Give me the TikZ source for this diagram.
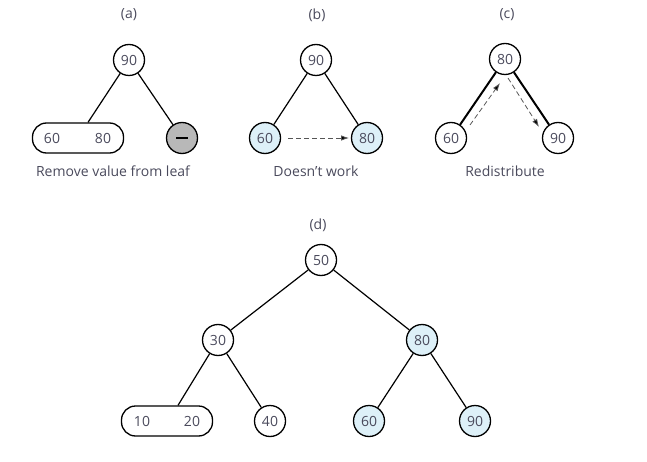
\documentclass[tikz,border=0pt]{standalone}
\usepackage{fontspec}
\setmainfont{Open Sans}
\usetikzlibrary{arrows.meta,calc}
\definecolor{txt}{HTML}{4A4A5C}
\definecolor{lblue}{HTML}{DDF0F8}
\definecolor{mgray}{HTML}{B8B8B8}
\definecolor{dgray}{HTML}{555555}
\tikzset{
  nd/.style={circle,draw=black,line width=1.3pt,minimum size=31pt,inner sep=0pt,text=txt,font=\fontsize{14}{16}\selectfont},
  bl/.style={nd,fill=lblue},
  pair/.style={draw=black,line width=1.3pt,rounded corners=14pt,minimum width=91pt,minimum height=30pt,inner sep=0pt},
  lbl/.style={text=txt,font=\fontsize{14}{16}\selectfont},
  edge/.style={line width=1.2pt},
  thick edge/.style={line width=2pt},
  dash arrow/.style={draw=dgray,dash pattern=on 5pt off 3pt,line width=0.8pt,-{Latex[length=8pt,width=5.5pt,fill=black]}}
}
\begin{document}
\begin{tikzpicture}[x=1pt,y=-1pt]
\useasboundingbox (0,0) rectangle (647,462);
% (a)
\node[lbl] (la) at (129,15) {(a)};
\node[nd] (a90) at (129,60) {90};
\node[pair] (abox) at (78,138) {};
\node[lbl] (a60) at (52,138) {60};
\node[lbl] (a80) at (103,138) {80};
\node[nd,fill=mgray] (amin) at (182,138) {};
\draw[line width=1.8pt] ($(amin.center)+(-6,0)$) coordinate (m1) -- ($(amin.center)+(6,0)$) coordinate (m2);
\coordinate (aboxtop) at ($(abox.north)+(10,0)$);
\draw[edge] (a90) -- (aboxtop);
\draw[edge] (a90) -- (amin);
\node[lbl] (ta) at (113,171) {Remove value from leaf};
% (b)
\node[lbl] (lb) at (317,15) {(b)};
\node[nd] (b90) at (316,60) {90};
\node[bl] (b60) at (265,138) {60};
\node[bl] (b80) at (367,138) {80};
\draw[edge] (b90) -- (b60);
\draw[edge] (b90) -- (b80);
\coordinate (bs) at (288,138);
\coordinate (be) at (349,138);
\draw[dash arrow] (bs) -- (be);
\node[lbl] (tb) at (316,171) {Doesn’t work};
% (c)
\node[lbl] (lc) at (507,15) {(c)};
\node[nd] (c80) at (505,59) {80};
\node[nd] (c60) at (451,138) {60};
\node[nd] (c90) at (558,138) {90};
\draw[thick edge] (c80) -- (c60);
\draw[thick edge] (c80) -- (c90);
\coordinate (cs1) at (470,125);
\coordinate (ce1) at (500,83);
\coordinate (cs2) at (508,78);
\coordinate (ce2) at (539,127);
\draw[dash arrow] (cs1) -- (ce1);
\draw[dash arrow] (cs2) -- (ce2);
\node[lbl] (tc) at (505,171) {Redistribute};
% (d)
\node[lbl] (ld) at (318,225) {(d)};
\node[nd] (d50) at (321,260) {50};
\node[nd] (d30) at (218,340) {30};
\node[bl] (d80) at (422,340) {80};
\node[pair] (dbox) at (167,421) {};
\node[lbl] (d10) at (142,421) {10};
\node[lbl] (d20) at (192,421) {20};
\node[nd] (d40) at (270,421) {40};
\node[bl] (d60) at (369,421) {60};
\node[bl] (d90) at (475,421) {90};
\coordinate (dboxtop) at ($(dbox.north)+(11,0)$);
\draw[edge] (d50) -- (d30);
\draw[edge] (d50) -- (d80);
\draw[edge] (d30) -- (dboxtop);
\draw[edge] (d30) -- (d40);
\draw[edge] (d80) -- (d60);
\draw[edge] (d80) -- (d90);
\end{tikzpicture}
\end{document}
